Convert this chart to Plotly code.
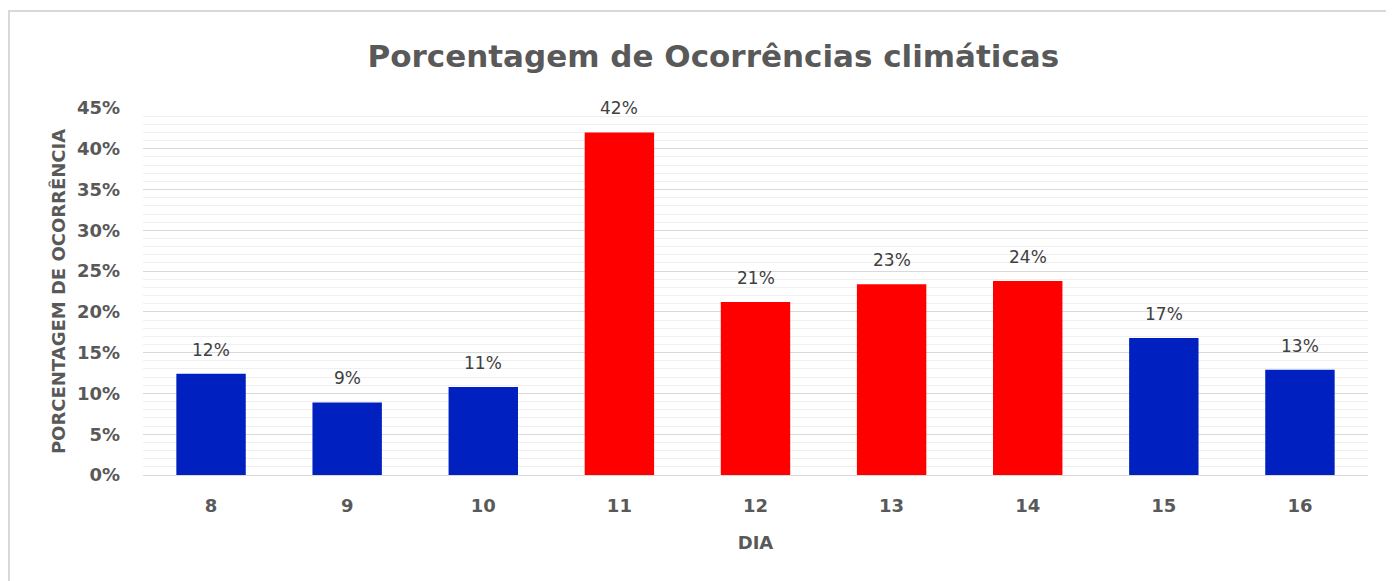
import plotly.graph_objects as go

dias = ["8", "9", "10", "11", "12", "13", "14", "15", "16"]
porcentagens = [12.4, 8.9, 10.8, 42.0, 21.2, 23.4, 23.8, 16.8, 12.9]
rotulos = ["12%", "9%", "11%", "42%", "21%", "23%", "24%", "17%", "13%"]
cores = ["#0020C0", "#0020C0", "#0020C0", "#FF0000", "#FF0000", "#FF0000", "#FF0000", "#0020C0", "#0020C0"]
y_ticks = [0, 5, 10, 15, 20, 25, 30, 35, 40, 45]
y_tick_text = ["0%", "5%", "10%", "15%", "20%", "25%", "30%", "35%", "40%", "45%"]

FONT = "DejaVu Sans, Verdana, sans-serif"

fig = go.Figure()
fig.add_trace(go.Bar(x=dias, y=porcentagens, marker=dict(color=cores, line=dict(width=0)),
                     hoverinfo="skip"))

for i, (v, t) in enumerate(zip(porcentagens, rotulos)):
    fig.add_annotation(x=i, y=v, xref="x", yref="y", text=t, showarrow=False,
                       yanchor="bottom", yshift=12,
                       font=dict(family=FONT, size=17, color="#404040"))

fig.update_layout(
    width=1394, height=581,
    paper_bgcolor="white", plot_bgcolor="white",
    margin=dict(l=135, r=34, t=100, b=114),
    bargap=0.49,
    showlegend=False,
    title=dict(text="<b>Porcentagem de Ocorrências climáticas</b>", x=0.506, xanchor="center",
               y=0.917, yanchor="middle",
               font=dict(family=FONT, size=31, color="#595959")),
    xaxis=dict(
        type="category", range=[-0.5, 8.5],
        tickfont=dict(family=FONT, size=18, color="#595959", weight="bold"),
        title=dict(text="<b>DIA</b>", font=dict(family=FONT, size=18, color="#595959"), standoff=21),
        showline=True, linecolor="#D9D9D9", linewidth=1,
        ticks="", ticklabelstandoff=14,
    ),
    yaxis=dict(
        range=[0, 45], tickmode="array", tickvals=y_ticks, ticktext=y_tick_text,
        tickfont=dict(family=FONT, size=18, color="#595959", weight="bold"),
        title=dict(text="<b>PORCENTAGEM DE OCORRÊNCIA</b>", font=dict(family=FONT, size=18, color="#595959"), standoff=6),
        showgrid=True, gridcolor="#D9D9D9", gridwidth=1,
        minor=dict(dtick=1, showgrid=True, gridcolor="#EFEFEF", gridwidth=1),
        zeroline=False, ticks="", ticklabelstandoff=22,
    ),
    shapes=[dict(type="rect", xref="paper", yref="paper", x0=-0.1094, x1=1.2, y0=-0.6, y1=1.264,
                 line=dict(color="#D9D9D9", width=2), layer="below")],
)

fig.write_html("out.html")
